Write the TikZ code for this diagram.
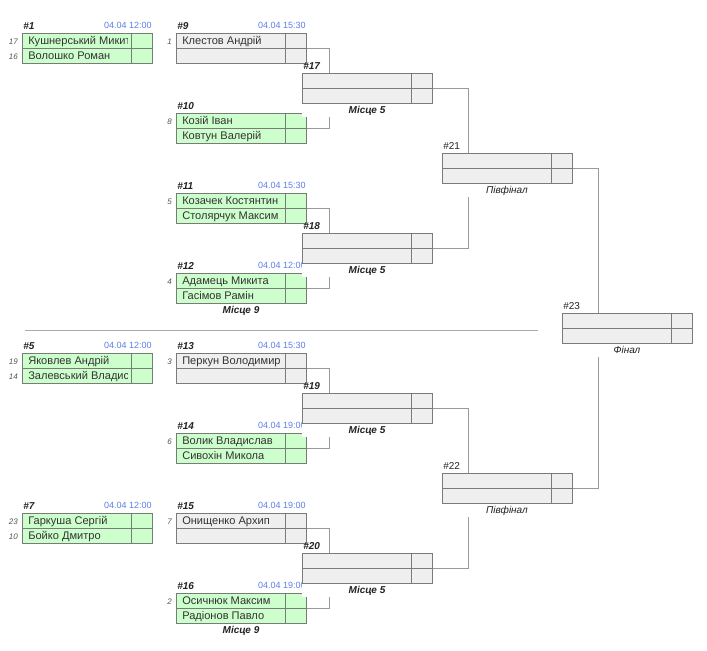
\documentclass[tikz,border=0pt]{standalone}
\usepackage{fontspec}
\setmainfont{Liberation Sans}
\usetikzlibrary{calc}
\pgfdeclarelayer{back}
\pgfsetlayers{back,main}
\definecolor{gfill}{HTML}{CCFFCC}
\definecolor{grfill}{HTML}{EFEFEF}
\definecolor{bord}{HTML}{7A7A7A}
\definecolor{connc}{HTML}{9A9A9A}
\definecolor{sepc}{HTML}{AAAAAA}
\definecolor{namec}{HTML}{333333}
\definecolor{seedc}{HTML}{555555}
\definecolor{timec}{HTML}{5B7FE8}
\definecolor{numc}{HTML}{222222}
\tikzset{
  mbox/.style={draw=bord, line width=0.75pt, minimum width=97.5pt, minimum height=22.5pt, inner sep=0pt, outer sep=0pt, anchor=north west},
  cell/.style={draw=bord, line width=0.75pt},
  conn/.style={draw=connc, line width=0.75pt},
  sepline/.style={draw=sepc, line width=0.75pt},
  pname/.style={anchor=base west, inner sep=0pt, text=namec, font=\fontsize{8.3pt}{10pt}\selectfont},
  pseed/.style={anchor=base east, inner sep=0pt, text=seedc, font=\fontsize{6pt}{7pt}\selectfont\itshape},
  ptime/.style={anchor=base east, inner sep=0pt, text=timec, font=\fontsize{6.75pt}{8pt}\selectfont},
  numb/.style={anchor=base west, inner sep=0pt, text=numc, font=\fontsize{7.5pt}{9pt}\selectfont\bfseries\itshape},
  numr/.style={anchor=base west, inner sep=0pt, text=numc, font=\fontsize{7.5pt}{9pt}\selectfont},
  labbg/.style={fill=white, inner sep=0pt, outer sep=0pt, minimum width=97.5pt, minimum height=14.25pt},
  labb/.style={anchor=base, inner sep=0pt, text=numc, font=\fontsize{7.5pt}{9pt}\selectfont\bfseries\itshape},
  labr/.style={anchor=base, inner sep=0pt, text=numc, font=\fontsize{7.5pt}{9pt}\selectfont\itshape},
}
% match box: name, x, y, fill, number style, number
\newcommand\Mt[6]{%
  \node[mbox, fill=#4] (#1) at (#2,#3) {};
  \draw[cell] (#2,#3+15) -- (#2+130,#3+15);
  \draw[cell] (#2+109,#3) -- (#2+109,#3+30);
  \node[#5] (#1n) at (#2+1,#3-3.5) {\##6};
}
% player row: node name, x, row top, seed, text
\newcommand\Pn[5]{%
  \begin{scope}
    \clip (#2,#3) rectangle (#2+105.8,#3+15);
    \node[pname] (#1) at (#2+6,#3+11.4) {#5};
  \end{scope}
  \node[pseed] (#1s) at (#2-4,#3+11.4) {#4};
}
% time: node name, x, y, time
\newcommand\Tm[4]{\node[ptime] (#1) at (#2+130,#3-5) {04.04 #4};}
% later-round match: name, x, y, number style, number, label style, label
\newcommand\Mr[7]{%
  \node[labbg] (#1b) at (#2+65,#3+34.5) {};
  \Mt{#1}{#2}{#3}{grfill}{#4}{#5}
  \node[#6] (#1l) at (#2+65,#3+40.5) {#7};
}
\begin{document}
\begin{tikzpicture}[x=0.75pt,y=-0.75pt]
\useasboundingbox (0,0) rectangle (707,650);

\coordinate (sepL) at (25,330);
\coordinate (sepR) at (538,330);
\draw[sepline] (sepL) -- (sepR);

% ---- round 1
\Mt{m1}{22}{33}{gfill}{numb}{1}
\Pn{p1a}{22}{33}{17}{Кушнерський Микита}
\Pn{p1b}{22}{48}{16}{Волошко Роман}
\Tm{t1}{22}{33}{12:00}

\Mt{m5}{22}{353}{gfill}{numb}{5}
\Pn{p5a}{22}{353}{19}{Яковлев Андрій}
\Pn{p5b}{22}{368}{14}{Залевський Владислав}
\Tm{t5}{22}{353}{12:00}

\Mt{m7}{22}{513}{gfill}{numb}{7}
\Pn{p7a}{22}{513}{23}{Гаркуша Сергій}
\Pn{p7b}{22}{528}{10}{Бойко Дмитро}
\Tm{t7}{22}{513}{12:00}

% ---- round 2
\Mt{m9}{176}{33}{grfill}{numb}{9}
\Pn{p9a}{176}{33}{1}{Клестов Андрій}
\Tm{t9}{176}{33}{15:30}

\Mt{m10}{176}{113}{gfill}{numb}{10}
\Pn{p10a}{176}{113}{8}{Козій Іван}
\Pn{p10b}{176}{128}{}{Ковтун Валерій}

\Mt{m11}{176}{193}{gfill}{numb}{11}
\Pn{p11a}{176}{193}{5}{Козачек Костянтин}
\Pn{p11b}{176}{208}{}{Столярчук Максим}
\Tm{t11}{176}{193}{15:30}

\Mt{m12}{176}{273}{gfill}{numb}{12}
\Pn{p12a}{176}{273}{4}{Адамець Микита}
\Pn{p12b}{176}{288}{}{Гасімов Рамін}
\Tm{t12}{176}{273}{12:00}
\node[labb] (m12l) at (241,313.5) {Місце 9};

\Mt{m13}{176}{353}{grfill}{numb}{13}
\Pn{p13a}{176}{353}{3}{Перкун Володимир}
\Tm{t13}{176}{353}{15:30}

\Mt{m14}{176}{433}{gfill}{numb}{14}
\Pn{p14a}{176}{433}{6}{Волик Владислав}
\Pn{p14b}{176}{448}{}{Сивохін Микола}
\Tm{t14}{176}{433}{19:00}

\Mt{m15}{176}{513}{grfill}{numb}{15}
\Pn{p15a}{176}{513}{7}{Онищенко Архип}
\Tm{t15}{176}{513}{19:00}

\Mt{m16}{176}{593}{gfill}{numb}{16}
\Pn{p16a}{176}{593}{2}{Осичнюк Максим}
\Pn{p16b}{176}{608}{}{Радіонов Павло}
\Tm{t16}{176}{593}{19:00}
\node[labb] (m16l) at (241,633.5) {Місце 9};

% ---- round 3
\Mr{m17}{302}{73}{numb}{17}{labb}{Місце 5}
\Mr{m18}{302}{233}{numb}{18}{labb}{Місце 5}
\Mr{m19}{302}{393}{numb}{19}{labb}{Місце 5}
\Mr{m20}{302}{553}{numb}{20}{labb}{Місце 5}

% ---- semifinals and final
\Mr{m21}{442}{153}{numr}{21}{labr}{Півфінал}
\Mr{m22}{442}{473}{numr}{22}{labr}{Півфінал}
\Mr{m23}{562}{313}{numr}{23}{labr}{Фінал}

% ---- connectors
\begin{pgfonlayer}{back}
\draw[conn] (m9.east)  -| ($(m17.north west)+(27,0)$);
\draw[conn] (m10.east) -| ($(m17.south west)+(27,0)$);
\draw[conn] (m11.east) -| ($(m18.north west)+(27,0)$);
\draw[conn] (m12.east) -| ($(m18.south west)+(27,0)$);
\draw[conn] (m13.east) -| ($(m19.north west)+(27,0)$);
\draw[conn] (m14.east) -| ($(m19.south west)+(27,0)$);
\draw[conn] (m15.east) -| ($(m20.north west)+(27,0)$);
\draw[conn] (m16.east) -| ($(m20.south west)+(27,0)$);
\draw[conn] (m17.east) -| ($(m21.north west)+(26.5,0)$);
\draw[conn] (m18.east) -| ($(m21.south west)+(26.5,0)$);
\draw[conn] (m19.east) -| ($(m22.north west)+(26.5,0)$);
\draw[conn] (m20.east) -| ($(m22.south west)+(26.5,0)$);
\draw[conn] (m21.east) -| ($(m23.north west)+(36,0)$);
\draw[conn] (m22.east) -| ($(m23.south west)+(36,0)$);
\end{pgfonlayer}
\end{tikzpicture}
\end{document}
